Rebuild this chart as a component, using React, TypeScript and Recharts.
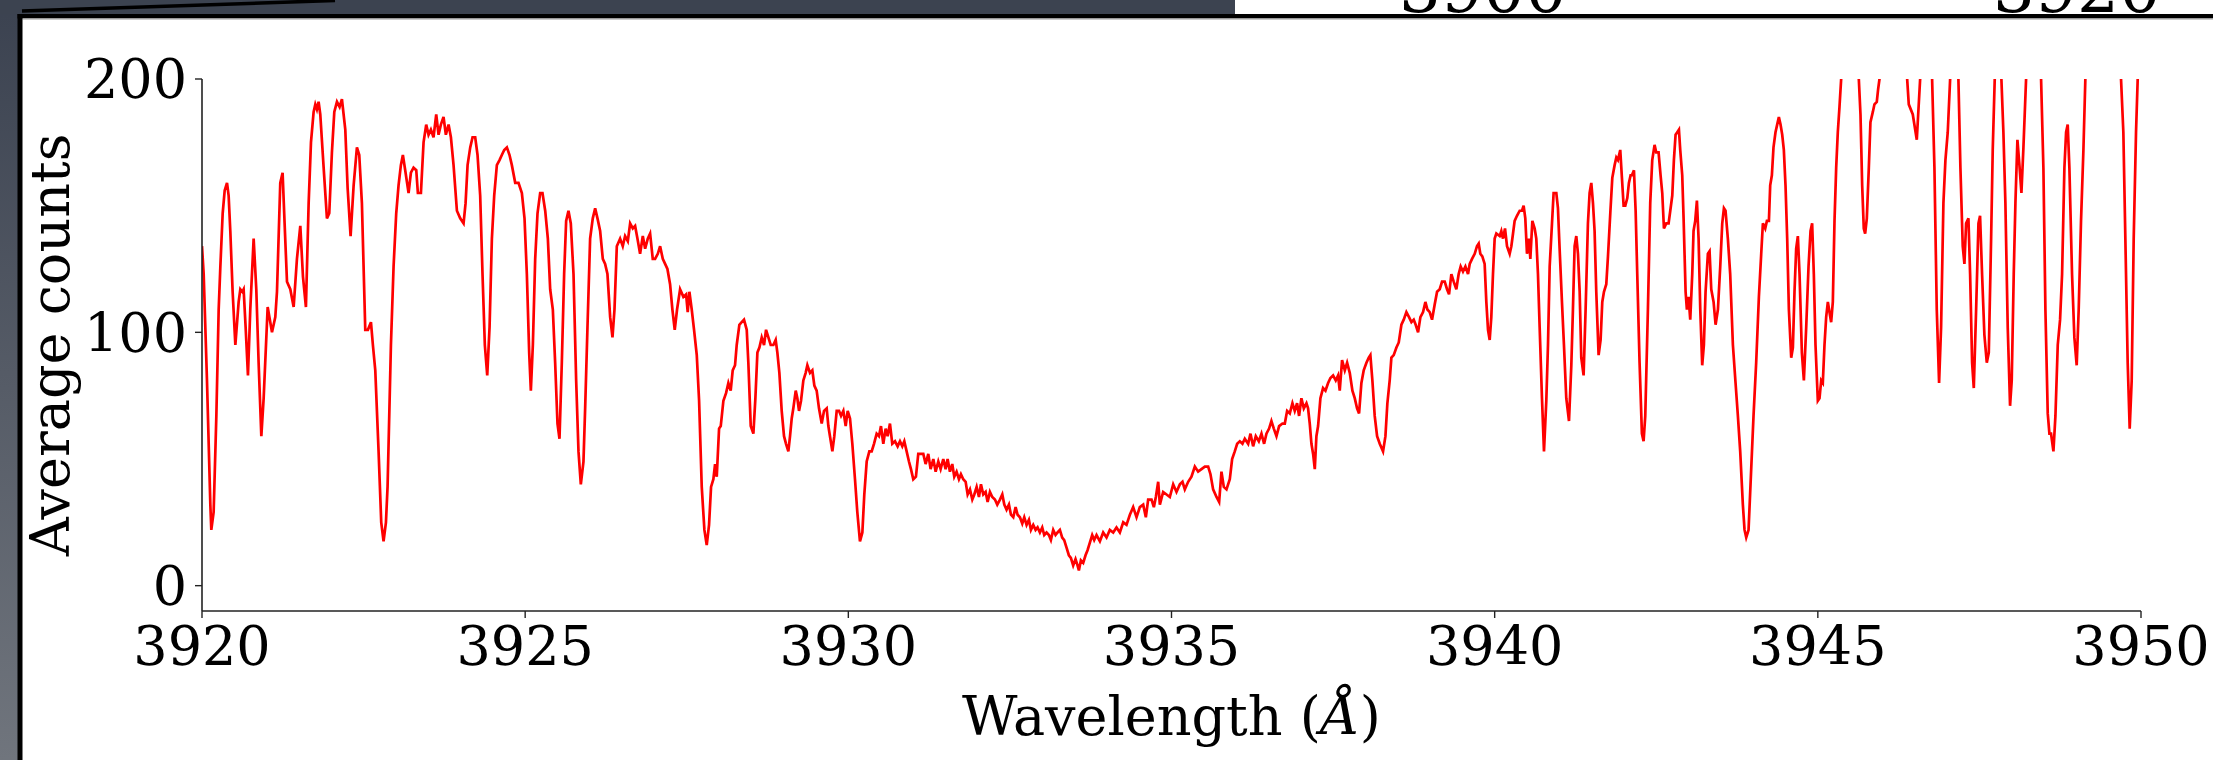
import { LineChart, Line, XAxis, YAxis, Label } from 'recharts';

// ---------------- SPECTRUM (wavelength Å, average counts) ----------------
// Blue wing, 3920 – 3927.4 Å
const blueWing: [number, number][] = [
  [3920.0, 134], [3920.026, 123], [3920.077, 81], [3920.129, 32], [3920.144, 22], [3920.18, 29], [3920.222, 67],
  [3920.258, 109], [3920.284, 126], [3920.32, 147], [3920.351, 156], [3920.387, 159], [3920.412, 154], [3920.438, 140],
  [3920.474, 116], [3920.516, 95], [3920.567, 112], [3920.593, 117], [3920.624, 116], [3920.644, 117], [3920.675, 102],
  [3920.711, 83], [3920.747, 109], [3920.799, 137], [3920.84, 117], [3920.876, 88], [3920.918, 59], [3920.954, 74],
  [3921.016, 110], [3921.083, 100], [3921.134, 106], [3921.16, 116], [3921.211, 159], [3921.247, 163], [3921.278, 143],
  [3921.315, 120], [3921.366, 117], [3921.418, 110], [3921.469, 129], [3921.521, 142], [3921.562, 122], [3921.608, 110],
  [3921.65, 151], [3921.686, 175], [3921.727, 187], [3921.753, 190], [3921.778, 188], [3921.804, 191], [3921.83, 186],
  [3921.882, 165], [3921.933, 145], [3921.969, 147], [3922.01, 171], [3922.047, 187], [3922.088, 191], [3922.129, 189],
  [3922.165, 192], [3922.217, 180], [3922.253, 157], [3922.299, 138], [3922.346, 158], [3922.397, 173], [3922.433, 170],
  [3922.474, 151], [3922.526, 101], [3922.567, 101], [3922.614, 104], [3922.644, 95], [3922.681, 85], [3922.732, 53],
  [3922.773, 25], [3922.809, 17.5], [3922.846, 25], [3922.871, 39], [3922.923, 95], [3922.964, 126], [3923.005, 147],
  [3923.041, 158], [3923.077, 166], [3923.108, 170], [3923.144, 164], [3923.196, 155], [3923.232, 163], [3923.273, 165],
  [3923.315, 164], [3923.34, 155], [3923.387, 155], [3923.428, 175], [3923.469, 182], [3923.505, 178], [3923.541, 180],
  [3923.582, 177], [3923.624, 186], [3923.66, 178], [3923.696, 182], [3923.737, 185], [3923.773, 178], [3923.815, 182],
  [3923.851, 177], [3923.892, 166], [3923.944, 148], [3923.995, 145], [3924.047, 143], [3924.078, 151], [3924.109, 166],
  [3924.15, 173], [3924.186, 177], [3924.227, 177], [3924.263, 170], [3924.304, 154], [3924.34, 123], [3924.376, 95],
  [3924.413, 83], [3924.449, 102], [3924.485, 137], [3924.521, 154], [3924.562, 166], [3924.603, 168], [3924.639, 170],
  [3924.676, 172], [3924.717, 173], [3924.758, 170], [3924.794, 166], [3924.846, 159], [3924.897, 159], [3924.949, 155],
  [3924.99, 145], [3925.026, 123], [3925.062, 92], [3925.088, 77], [3925.119, 95], [3925.155, 129], [3925.191, 147],
  [3925.232, 155], [3925.268, 155], [3925.31, 148], [3925.351, 137], [3925.387, 117], [3925.428, 109], [3925.464, 88],
  [3925.5, 64], [3925.531, 58], [3925.567, 88], [3925.603, 123], [3925.634, 144], [3925.67, 148], [3925.706, 143],
  [3925.748, 123], [3925.789, 81], [3925.825, 53], [3925.861, 40], [3925.902, 49], [3925.928, 70], [3925.964, 102],
  [3926.005, 137], [3926.046, 145], [3926.083, 149], [3926.119, 145], [3926.16, 140], [3926.201, 129], [3926.237, 127],
  [3926.273, 123], [3926.315, 106], [3926.351, 98], [3926.382, 109], [3926.418, 134], [3926.469, 137], [3926.51, 134],
  [3926.546, 138], [3926.588, 136], [3926.624, 143], [3926.665, 141], [3926.701, 142], [3926.737, 137], [3926.778, 131],
  [3926.82, 138], [3926.856, 133], [3926.897, 137], [3926.933, 139], [3926.974, 129], [3927.01, 129], [3927.052, 131],
  [3927.088, 134], [3927.129, 129], [3927.165, 127], [3927.201, 125], [3927.242, 119], [3927.278, 109], [3927.314, 101],
  [3927.35, 109],
];

// Inner blue wing down to the K core, 3927.4 – 3933.9 Å
const blueCore: [number, number][] = [
  [3927.397, 117], [3927.448, 114], [3927.49, 115], [3927.515, 108], [3927.541, 116], [3927.577, 109], [3927.613, 101],
  [3927.655, 91], [3927.691, 73], [3927.732, 39], [3927.773, 22], [3927.809, 16], [3927.845, 24], [3927.876, 39],
  [3927.912, 42], [3927.938, 48], [3927.964, 43], [3928.0, 62], [3928.026, 63], [3928.067, 73], [3928.108, 76],
  [3928.144, 80], [3928.18, 77], [3928.211, 85], [3928.247, 87], [3928.273, 95], [3928.314, 103], [3928.35, 104],
  [3928.386, 105], [3928.428, 101], [3928.453, 88], [3928.49, 63], [3928.531, 60], [3928.562, 74], [3928.593, 92],
  [3928.624, 94], [3928.66, 98], [3928.696, 95], [3928.727, 101], [3928.763, 98], [3928.799, 95], [3928.84, 95],
  [3928.876, 97], [3928.902, 92], [3928.933, 84], [3928.969, 69], [3929.005, 59], [3929.036, 56], [3929.072, 53],
  [3929.098, 59], [3929.124, 66], [3929.149, 70], [3929.186, 77], [3929.211, 74], [3929.237, 69], [3929.268, 73],
  [3929.304, 81], [3929.34, 84], [3929.366, 87], [3929.407, 84], [3929.443, 85], [3929.474, 79], [3929.51, 77],
  [3929.546, 70], [3929.588, 64], [3929.624, 69], [3929.665, 70], [3929.691, 63], [3929.716, 59], [3929.753, 53],
  [3929.783, 59], [3929.82, 69], [3929.856, 69], [3929.887, 67], [3929.923, 69], [3929.959, 63], [3929.99, 69],
  [3930.026, 66], [3930.062, 56], [3930.103, 42], [3930.139, 29], [3930.18, 17.5], [3930.217, 21], [3930.247, 36],
  [3930.284, 49], [3930.325, 53], [3930.361, 53], [3930.397, 56], [3930.438, 60], [3930.474, 59], [3930.505, 63],
  [3930.541, 56], [3930.577, 62], [3930.608, 59], [3930.644, 64], [3930.68, 56], [3930.722, 57], [3930.763, 55],
  [3930.799, 57], [3930.835, 55], [3930.866, 57], [3930.902, 53], [3930.938, 49], [3930.969, 46], [3931.005, 42],
  [3931.046, 43], [3931.082, 52], [3931.119, 52], [3931.16, 52], [3931.196, 48], [3931.237, 52], [3931.273, 46],
  [3931.315, 50], [3931.351, 45], [3931.392, 49], [3931.428, 46], [3931.469, 50], [3931.505, 46], [3931.536, 50],
  [3931.572, 45], [3931.608, 48], [3931.639, 43], [3931.675, 45], [3931.711, 42], [3931.742, 44], [3931.778, 42],
  [3931.815, 41], [3931.846, 36], [3931.882, 38], [3931.918, 34], [3931.949, 36], [3931.985, 39], [3932.021, 35],
  [3932.052, 40], [3932.088, 36], [3932.124, 37], [3932.155, 33], [3932.191, 37], [3932.227, 35], [3932.268, 34],
  [3932.304, 32], [3932.346, 34], [3932.382, 36], [3932.413, 32], [3932.448, 30], [3932.485, 32], [3932.516, 28],
  [3932.552, 27], [3932.588, 31], [3932.619, 28], [3932.655, 27], [3932.691, 24.5], [3932.722, 27], [3932.758, 24],
  [3932.794, 26], [3932.825, 22], [3932.861, 24], [3932.897, 22], [3932.928, 23], [3932.964, 21], [3933.0, 23],
  [3933.031, 20], [3933.067, 21], [3933.103, 20], [3933.134, 18], [3933.17, 22], [3933.206, 20], [3933.237, 21],
  [3933.273, 22], [3933.309, 19], [3933.34, 18], [3933.376, 15], [3933.412, 12], [3933.443, 11], [3933.479, 8],
  [3933.515, 10.5], [3933.546, 8], [3933.567, 6], [3933.598, 10], [3933.634, 9], [3933.67, 12], [3933.701, 14],
  [3933.737, 17], [3933.773, 20], [3933.804, 18], [3933.84, 20], [3933.892, 17.5],
];

// Red side of the core, 3933.9 – 3940.1 Å
const redCore: [number, number][] = [
  [3933.943, 21], [3933.995, 19], [3934.046, 22], [3934.098, 21], [3934.149, 23], [3934.201, 21], [3934.253, 25],
  [3934.304, 24], [3934.356, 28], [3934.407, 31], [3934.459, 27], [3934.51, 31], [3934.562, 32], [3934.603, 27],
  [3934.639, 34], [3934.691, 34], [3934.727, 31], [3934.758, 35], [3934.794, 41], [3934.82, 32], [3934.871, 37],
  [3934.923, 36], [3934.974, 35], [3935.026, 40], [3935.077, 37], [3935.129, 40], [3935.17, 41], [3935.206, 38],
  [3935.258, 41], [3935.309, 43], [3935.361, 47], [3935.412, 45], [3935.464, 46], [3935.516, 47], [3935.567, 47],
  [3935.603, 44], [3935.644, 38], [3935.696, 35], [3935.737, 33], [3935.773, 45], [3935.809, 39], [3935.851, 38],
  [3935.902, 42], [3935.938, 50], [3935.979, 53], [3936.016, 56], [3936.057, 57], [3936.098, 56], [3936.134, 58],
  [3936.186, 56], [3936.222, 60], [3936.263, 55], [3936.304, 59], [3936.351, 57], [3936.392, 60], [3936.433, 56],
  [3936.469, 60], [3936.51, 62], [3936.546, 65], [3936.583, 62], [3936.624, 59], [3936.665, 63], [3936.717, 64],
  [3936.753, 64], [3936.789, 69], [3936.83, 68], [3936.871, 72], [3936.907, 69], [3936.943, 72], [3936.974, 67],
  [3937.01, 74], [3937.047, 70], [3937.088, 72], [3937.113, 70], [3937.139, 64], [3937.165, 56], [3937.191, 52],
  [3937.217, 46], [3937.242, 59], [3937.268, 63], [3937.304, 74], [3937.345, 78], [3937.382, 77], [3937.423, 80],
  [3937.459, 82], [3937.5, 83], [3937.541, 81], [3937.577, 83], [3937.603, 77], [3937.639, 89], [3937.681, 85],
  [3937.717, 88], [3937.758, 84], [3937.799, 77], [3937.835, 74], [3937.871, 70], [3937.902, 68], [3937.938, 80],
  [3937.974, 85], [3938.016, 88], [3938.052, 90], [3938.077, 91], [3938.108, 81], [3938.144, 67], [3938.181, 59],
  [3938.222, 56], [3938.273, 53], [3938.31, 59], [3938.34, 72], [3938.376, 81], [3938.402, 90], [3938.438, 91],
  [3938.48, 94], [3938.516, 96], [3938.557, 103], [3938.593, 105], [3938.634, 108], [3938.675, 106], [3938.712, 104],
  [3938.748, 105], [3938.778, 103], [3938.815, 100], [3938.851, 106], [3938.892, 108], [3938.928, 112], [3938.959, 109],
  [3938.995, 108], [3939.031, 105], [3939.072, 111], [3939.109, 116], [3939.15, 117], [3939.186, 120], [3939.227, 120],
  [3939.263, 117], [3939.294, 115], [3939.33, 123], [3939.366, 120], [3939.407, 117], [3939.443, 123], [3939.474, 126],
  [3939.51, 124], [3939.547, 126], [3939.588, 123], [3939.614, 127], [3939.65, 129], [3939.691, 131], [3939.727, 134],
  [3939.753, 135], [3939.778, 131], [3939.809, 130], [3939.845, 127], [3939.871, 112], [3939.897, 101], [3939.923, 97],
  [3939.948, 106], [3939.974, 123], [3940.0, 137], [3940.026, 139], [3940.077, 138],
];

// Red wing with the dense line forest, 3940.1 – 3946 Å (peaks above 200 run off the top)
const redWing: [number, number][] = [
  [3940.103, 140], [3940.129, 137], [3940.16, 141], [3940.191, 134], [3940.232, 131], [3940.258, 134], [3940.284, 139],
  [3940.309, 144], [3940.345, 146], [3940.387, 148], [3940.423, 148], [3940.448, 150], [3940.474, 145], [3940.5, 131],
  [3940.531, 137], [3940.552, 129], [3940.583, 144], [3940.619, 141], [3940.644, 137], [3940.67, 123], [3940.696, 102],
  [3940.732, 74], [3940.763, 53], [3940.799, 73], [3940.825, 95], [3940.851, 126], [3940.887, 143], [3940.912, 155],
  [3940.954, 155], [3940.979, 149], [3941.005, 133], [3941.041, 112], [3941.072, 95], [3941.108, 74], [3941.15, 65],
  [3941.186, 87], [3941.211, 109], [3941.237, 134], [3941.263, 138], [3941.289, 131], [3941.315, 116], [3941.34, 90],
  [3941.376, 83], [3941.407, 109], [3941.443, 143], [3941.469, 155], [3941.495, 159], [3941.521, 151], [3941.546, 140],
  [3941.572, 116], [3941.608, 91], [3941.639, 97], [3941.665, 112], [3941.691, 116], [3941.727, 119], [3941.753, 130],
  [3941.789, 147], [3941.82, 161], [3941.856, 166], [3941.882, 169], [3941.907, 168], [3941.943, 172], [3941.969, 161],
  [3941.995, 150], [3942.021, 150], [3942.052, 153], [3942.077, 159], [3942.103, 162], [3942.124, 162], [3942.155, 164],
  [3942.181, 148], [3942.206, 123], [3942.242, 88], [3942.278, 60], [3942.304, 57], [3942.33, 67], [3942.371, 109],
  [3942.407, 151], [3942.438, 168], [3942.474, 174], [3942.5, 171], [3942.536, 171], [3942.567, 162], [3942.593, 155],
  [3942.619, 141], [3942.655, 143], [3942.691, 143], [3942.717, 148], [3942.748, 154], [3942.773, 168], [3942.799, 178],
  [3942.825, 179], [3942.851, 180], [3942.871, 172], [3942.902, 162], [3942.923, 145], [3942.954, 116], [3942.974, 109],
  [3943.0, 114], [3943.026, 105], [3943.057, 123], [3943.077, 140], [3943.103, 144], [3943.129, 152], [3943.155, 137],
  [3943.181, 109], [3943.211, 87], [3943.237, 95], [3943.263, 116], [3943.299, 131], [3943.325, 132], [3943.351, 117],
  [3943.387, 112], [3943.418, 103], [3943.454, 109], [3943.49, 126], [3943.521, 143], [3943.547, 149], [3943.572, 148],
  [3943.608, 137], [3943.644, 123], [3943.686, 95], [3943.727, 80], [3943.763, 67], [3943.799, 53], [3943.84, 32],
  [3943.866, 22], [3943.892, 19], [3943.928, 22], [3943.969, 46], [3944.005, 67], [3944.046, 88], [3944.088, 114],
  [3944.124, 131], [3944.15, 143], [3944.186, 141], [3944.212, 144], [3944.243, 144], [3944.263, 158], [3944.289, 162],
  [3944.314, 173], [3944.345, 179], [3944.371, 182], [3944.397, 185], [3944.423, 182], [3944.449, 178], [3944.474, 172],
  [3944.5, 158], [3944.526, 137], [3944.552, 109], [3944.588, 90], [3944.614, 94], [3944.639, 116], [3944.665, 133],
  [3944.691, 138], [3944.717, 123], [3944.753, 92], [3944.784, 81], [3944.82, 102], [3944.856, 126], [3944.887, 140],
  [3944.912, 143], [3944.938, 123], [3944.964, 95], [3945.0, 73], [3945.026, 74], [3945.052, 81], [3945.077, 80],
  [3945.103, 95], [3945.129, 106], [3945.155, 112], [3945.18, 108], [3945.206, 104], [3945.232, 112], [3945.258, 144],
  [3945.284, 165], [3945.309, 179], [3945.335, 189], [3945.361, 200], [3945.4, 222], [3945.46, 232], [3945.53, 234],
  [3945.59, 222], [3945.634, 200], [3945.66, 186], [3945.686, 158], [3945.711, 141], [3945.732, 139], [3945.758, 145],
  [3945.789, 165], [3945.814, 183], [3945.851, 187], [3945.876, 190], [3945.912, 191], [3945.933, 196], [3945.954, 200],
];

// Far red end, 3946 – 3950 Å
const farRed: [number, number][] = [
  [3946.05, 218], [3946.16, 224], [3946.27, 216], [3946.382, 200], [3946.407, 190], [3946.469, 186], [3946.531, 176],
  [3946.583, 200], [3946.675, 218], [3946.768, 200], [3946.804, 165], [3946.84, 109], [3946.876, 80], [3946.907, 102],
  [3946.943, 151], [3946.974, 168], [3947.01, 179], [3947.047, 200], [3947.11, 212], [3947.175, 200], [3947.206, 165],
  [3947.242, 134], [3947.268, 127], [3947.294, 143], [3947.33, 145], [3947.356, 123], [3947.387, 88], [3947.413, 78],
  [3947.449, 109], [3947.485, 143], [3947.51, 146], [3947.541, 123], [3947.577, 99], [3947.614, 88], [3947.645, 92],
  [3947.681, 137], [3947.706, 172], [3947.737, 200], [3947.79, 215], [3947.84, 200], [3947.871, 179], [3947.902, 151],
  [3947.938, 102], [3947.974, 71], [3948.0, 81], [3948.031, 123], [3948.057, 151], [3948.088, 176], [3948.119, 166],
  [3948.15, 155], [3948.181, 173], [3948.222, 200], [3948.34, 232], [3948.454, 200], [3948.49, 165], [3948.521, 109],
  [3948.557, 68], [3948.583, 60], [3948.608, 60], [3948.645, 53], [3948.676, 67], [3948.712, 95], [3948.748, 105],
  [3948.779, 123], [3948.815, 165], [3948.841, 179], [3948.866, 182], [3948.892, 165], [3948.933, 123], [3948.969, 98],
  [3949.005, 87], [3949.036, 109], [3949.072, 144], [3949.109, 172], [3949.139, 200], [3949.3, 250], [3949.42, 262],
  [3949.54, 250], [3949.691, 200], [3949.727, 179], [3949.758, 137], [3949.794, 88], [3949.825, 62], [3949.856, 81],
  [3949.887, 137], [3949.923, 179], [3949.949, 200], [3950.0, 235],
];

const X_TICKS = [3920, 3925, 3930, 3935, 3940, 3945, 3950];
const Y_TICKS = [0, 100, 200];
// tick labels of the wider panel peeking out above the frame
const BACK_TICKS = ['3900', '3920'];

const spectrum = [...blueWing, ...blueCore, ...redCore, ...redWing, ...farRed].map(([wl, counts]) => ({ wl, counts }));

// ---------------- LAYOUT ----------------
const W = 2213;
const H = 760;
const FONT = '"DejaVu Serif", serif';
const FONT_SIZE = 54;
const SPINE = '#222222';
const tickStyle = { fontFamily: FONT, fontSize: FONT_SIZE, fill: '#000000' };

const XTitle = ({ viewBox }: any) => {
  const { x, y, width, height } = viewBox;
  return (
    <text x={x + width / 2} y={y + height - 25} textAnchor="middle" fontFamily={FONT} fontSize={FONT_SIZE} fill="#000">
      Wavelength (<tspan fontStyle="italic">Å</tspan>)
    </text>
  );
};

const YTitle = ({ viewBox }: any) => {
  const { x, y, height } = viewBox;
  const cx = x + 69;
  const cy = y + height / 2;
  return (
    <text
      x={cx}
      y={cy}
      transform={`rotate(-90 ${cx} ${cy})`}
      textAnchor="middle"
      fontFamily={FONT}
      fontSize={FONT_SIZE}
      fill="#000">
      Average counts
    </text>
  );
};

// dark slide edge, black frame and the clipped numbers behind it
function Frame() {
  return (
    <svg width={W} height={H} style={{ position: 'absolute', left: 0, top: 0, pointerEvents: 'none' }}>
      <defs>
        <linearGradient id="slate" x1="0" y1="0" x2="0" y2="1">
          <stop offset="0%" stopColor="#3b4250" />
          <stop offset="100%" stopColor="#70757d" />
        </linearGradient>
        <clipPath id="topStrip">
          <rect x={1235} y={0} width={W - 1235} height={14} />
        </clipPath>
      </defs>
      <rect x={0} y={0} width={18} height={H} fill="url(#slate)" />
      <rect x={0} y={0} width={1235} height={14} fill="#3c4350" />
      <g clipPath="url(#topStrip)" fontFamily={FONT} fontSize={66} fill="#000" textAnchor="middle">
        <text x={1483} y={12}>{BACK_TICKS[0]}</text>
        <text x={2077} y={12}>{BACK_TICKS[1]}</text>
      </g>
      <line x1={22} y1={11} x2={335} y2={0.5} stroke="#000" strokeWidth={3.5} />
      <rect x={17.5} y={14} width={W - 17.5} height={4.5} fill="#000" />
      <rect x={22.5} y={18.5} width={W - 22.5} height={1.2} fill="#b5b5b5" />
      <rect x={17.5} y={14} width={5} height={H - 14} fill="#000" />
    </svg>
  );
}

export default function App() {
  return (
    <div style={{ position: 'absolute', left: 0, top: 0, width: W, height: H, background: '#fff', overflow: 'hidden' }}>
      <LineChart width={W} height={H} data={spectrum} margin={{ top: 79, right: 72, bottom: 0, left: 0 }}>
        <XAxis
          dataKey="wl"
          type="number"
          domain={[3920, 3950]}
          ticks={X_TICKS}
          interval={0}
          allowDataOverflow
          height={149}
          tickSize={7}
          tickMargin={9}
          tick={tickStyle}
          axisLine={{ stroke: SPINE, strokeWidth: 1.6 }}
          tickLine={{ stroke: SPINE, strokeWidth: 1.4 }}>
          <Label content={XTitle} />
        </XAxis>
        <XAxis
          xAxisId="top"
          orientation="top"
          dataKey="wl"
          type="number"
          domain={[3920, 3950]}
          allowDataOverflow
          height={0}
          tick={false}
          tickLine={false}
          axisLine={{ stroke: SPINE, strokeWidth: 1.6 }}
        />
        <YAxis
          type="number"
          domain={[-10, 200]}
          ticks={Y_TICKS}
          interval={0}
          allowDataOverflow
          width={202}
          tickSize={7}
          tickMargin={8}
          tick={tickStyle}
          axisLine={{ stroke: SPINE, strokeWidth: 1.6 }}
          tickLine={{ stroke: SPINE, strokeWidth: 1.4 }}>
          <Label content={YTitle} />
        </YAxis>
        <YAxis
          yAxisId="right"
          orientation="right"
          type="number"
          domain={[-10, 200]}
          allowDataOverflow
          width={0}
          tick={false}
          tickLine={false}
          axisLine={{ stroke: SPINE, strokeWidth: 1.6 }}
        />
        <Line
          type="linear"
          dataKey="counts"
          stroke="#ff0000"
          strokeWidth={2.7}
          dot={false}
          isAnimationActive={false}
        />
      </LineChart>
      <Frame />
    </div>
  );
}
